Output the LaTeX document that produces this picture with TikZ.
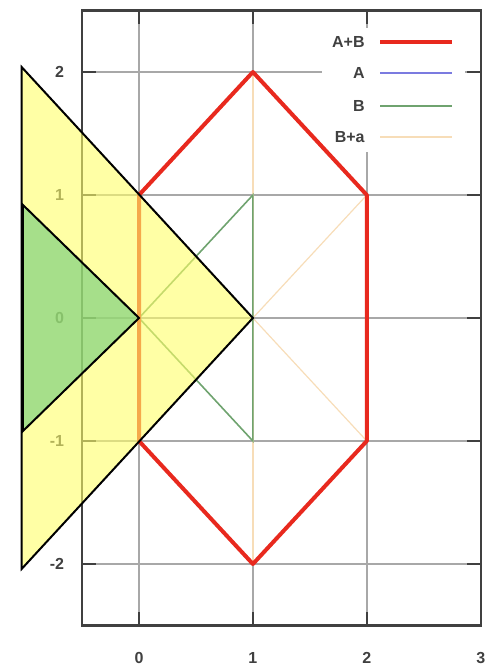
\documentclass[tikz,border=0pt]{standalone}
\usepackage{fontspec}
\setmainfont{Liberation Sans}
\usetikzlibrary{positioning}
\definecolor{sumred}{HTML}{E8291E}
\definecolor{setblue}{HTML}{7B7BE0}
\definecolor{setgreen}{HTML}{6FA36F}
\definecolor{shiftpeach}{HTML}{F7DDB8}
\definecolor{gridgray}{HTML}{A8A8A8}
\definecolor{triyellow}{HTML}{FFFF69}
\definecolor{trigreen}{HTML}{6BCB78}

\begin{document}
\begin{tikzpicture}[x=56.95pt, y=61.5pt,
          gridline/.style={draw=gridgray, line width=0.8pt},
          frame/.style={draw=black!75, line width=1.2pt},
          lbl/.style={font=\bfseries\fontsize{8}{9}\selectfont, text=black!75, inner sep=0pt},
          sumline/.style={draw=sumred, line width=2pt, line join=round},
          tri/.style={draw=black, line width=1pt, line join=miter, fill opacity=0.6}]
        \useasboundingbox (-1.2204,-2.8211) rectangle (3.0641,2.5854);
        % grid
        \foreach \gx in {0,1,2} \draw[gridline] (\gx,-2.5) -- (\gx,2.5);
        \foreach \gy in {-2,...,2} \draw[gridline] (-0.5,\gy) -- (3,\gy);
        % legend
        \fill[white] (1.607,1.350) rectangle (2.862,2.358);
        \foreach \ly/\lt/\lc/\lw [count=\li] in {2.246/A+B/sumred/2pt, 1.992/A/setblue/0.8pt, 1.724/B/setgreen/0.8pt, 1.472/B+a/shiftpeach/0.8pt} {
          \node[lbl, anchor=east] (key\li) at (1.984,\ly) {\lt};
          \coordinate (keyl\li) at (2.116,\ly);
          \coordinate (keyr\li) at (2.748,\ly);
          \draw[\lc, line width=\lw] (keyl\li) -- (keyr\li);
        }
        % sets
        \draw[shiftpeach, line width=0.6pt] (1,2) -- (1,-2);
        \draw[shiftpeach, line width=0.6pt] (2,1) -- (1,0) -- (2,-1);
        \draw[setgreen, line width=0.8pt] (0,0) -- (1,1) -- (1,-1) -- cycle;
        \draw[sumline] (0,1) -- (1,2) -- (2,1) -- (2,-1) -- (1,-2) -- (0,-1) -- cycle;
        % frame, ticks, labels
        \draw[frame] (-0.5,-2.5) rectangle (3,2.5);
        \foreach \gx in {0,1,2} {
          \draw[frame, line width=0.8pt] (\gx,-2.5) -- (\gx,-2.39);
          \draw[frame, line width=0.8pt] (\gx,2.5) -- (\gx,2.39);
        }
        \foreach \gy in {-2,...,2} {
          \draw[frame, line width=0.8pt] (-0.5,\gy) -- (-0.38,\gy);
          \draw[frame, line width=0.8pt] (3,\gy) -- (2.88,\gy);
          \node[lbl, anchor=east] (ylab\gy) at (-0.654,\gy) {\gy};
        }
        \foreach \gx in {0,...,3} \node[lbl] (xlab\gx) at (\gx,-2.764) {\gx};
        % overlays
        \filldraw[tri, fill=triyellow] (-1.03,2.04) -- (1,0) -- (-1.03,-2.04) -- cycle;
        \filldraw[tri, fill=trigreen] (-1.02,0.92) -- (0,0) -- (-1.02,-0.92) -- cycle;
      \end{tikzpicture}
\end{document}
